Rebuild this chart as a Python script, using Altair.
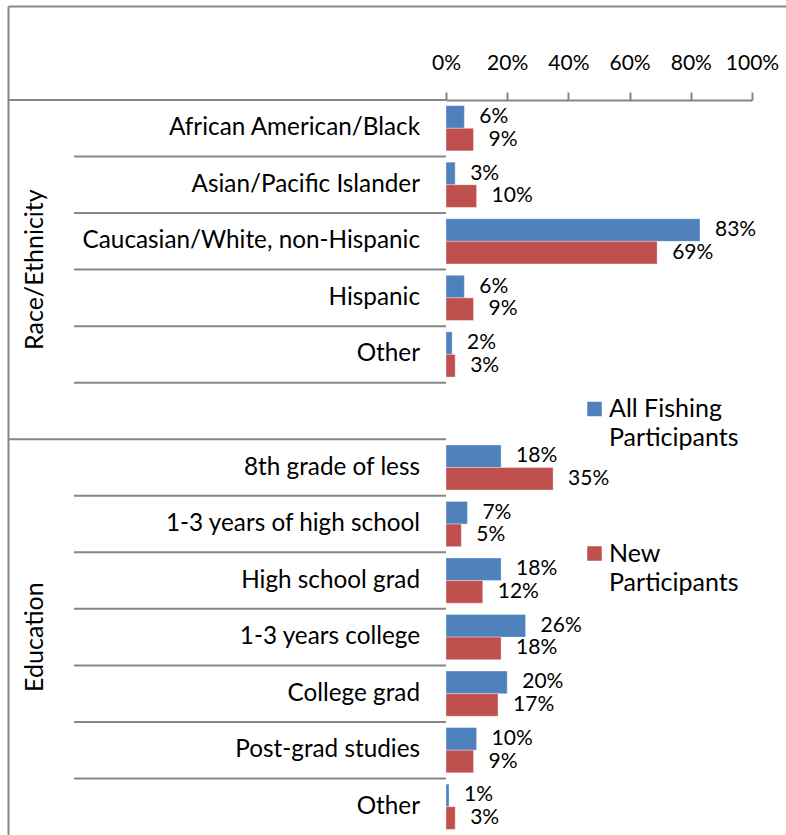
import altair as alt
import pandas as pd

# Survey shares (percent) by category
race_labels = ["African American/Black", "Asian/Pacific Islander",
               "Caucasian/White, non-Hispanic", "Hispanic", "Other", ""]
race_all = [6, 3, 83, 6, 2, None]
race_new = [9, 10, 69, 9, 3, None]

edu_labels = ["8th grade of less", "1-3 years of high school", "High school grad",
              "1-3 years college", "College grad", "Post-grad studies", "Other"]
edu_all = [18, 7, 18, 26, 20, 10, 1]
edu_new = [35, 5, 12, 18, 17, 9, 3]

groups = ["Race/Ethnicity", "Education"]
series = ["All Fishing Participants", "New Participants"]
colors = ["#4F81BD", "#C0504D"]
tick_values = [0, 20, 40, 60, 80, 100]

FONT = "Lato"
GRID = "#868686"

# one row per category slot, keyed by group so repeated labels stay distinct
rows = []
bars = []
for g, labels, a_vals, n_vals in [(groups[0], race_labels, race_all, race_new),
                                  (groups[1], edu_labels, edu_all, edu_new)]:
    for i, lab in enumerate(labels):
        key = f"{g}|{lab}"
        rows.append({"key": key, "group": g, "label": lab, "idx": i})
        for s, v in zip(series, [a_vals[i], n_vals[i]]):
            if v is not None:
                bars.append({"key": key, "series": s, "value": v})

rows_df = pd.DataFrame(rows)
bars_df = pd.DataFrame(bars)
row_keys = rows_df["key"].tolist()

inner_sep = rows_df[rows_df["idx"] > 0]
group_sep = rows_df[rows_df["idx"] == 0]
race_keys = rows_df[rows_df["group"] == groups[0]]["key"].tolist()
edu_keys = rows_df[rows_df["group"] == groups[1]]["key"].tolist()

y_scale = alt.Scale(domain=row_keys, paddingInner=0, paddingOuter=0)
x_scale = alt.Scale(domain=[0, 100], nice=False)
offset_scale = alt.Scale(paddingOuter=0.25, paddingInner=0)
color_scale = alt.Scale(domain=series, range=colors)


def y_enc(**kw):
    return alt.Y("key:N", scale=y_scale, axis=None, **kw)


bar_layer = alt.Chart(bars_df).mark_bar(stroke="white", strokeOpacity=0.35, strokeWidth=1).encode(
    x=alt.X("value:Q", scale=x_scale,
            axis=alt.Axis(orient="top", values=tick_values, labelExpr="datum.value + '%'",
                          title=None, grid=False, domainColor=GRID, domainWidth=2,
                          tickColor=GRID, tickWidth=2, tickSize=8,
                          labelFont=FONT, labelFontSize=21, labelColor="black",
                          labelOverlap=False, labelFlush=False,
                          labelBaseline="alphabetic", labelPadding=23)),
    y=alt.Y("key:N", scale=y_scale,
            axis=alt.Axis(labels=False, ticks=False, title=None, grid=False,
                          domainColor=GRID, domainWidth=2)),
    yOffset=alt.YOffset("series:N", sort=series, scale=offset_scale),
    color=alt.Color("series:N", sort=series, scale=color_scale, legend=None),
)

value_layer = alt.Chart(bars_df).transform_calculate(
    txt="datum.value + '%'"
).mark_text(align="left", baseline="middle", dx=15, font=FONT, fontSize=21,
            color="black").encode(
    x=alt.X("value:Q", scale=x_scale),
    y=y_enc(),
    yOffset=alt.YOffset("series:N", sort=series, scale=offset_scale),
    text="txt:N",
)

label_layer = alt.Chart(rows_df).mark_text(
    align="right", baseline="middle", font=FONT, fontSize=24.3, color="black"
).encode(x=alt.value(-26), y=y_enc(), text="label:N")

inner_rules = alt.Chart(inner_sep).mark_rule(color=GRID, strokeWidth=2).encode(
    y=y_enc(bandPosition=0), x=alt.value(-372), x2=alt.value(0))

group_rules = alt.Chart(group_sep).mark_rule(color=GRID, strokeWidth=2).encode(
    y=y_enc(bandPosition=0), x=alt.value(-437.5), x2=alt.value(0))

frame = alt.Data(values=[{}])
top_border = alt.Chart(frame).mark_rule(color=GRID, strokeWidth=2).encode(
    x=alt.value(-437.5), x2=alt.value(340), y=alt.value(-93.5))
left_border = alt.Chart(frame).mark_rule(color=GRID, strokeWidth=2).encode(
    x=alt.value(-437.5), y=alt.value(-93.5), y2=alt.value(735))

race_title = alt.Chart(pd.DataFrame({"key": [race_keys[3]], "t": [groups[0]]})).mark_text(
    angle=270, align="center", baseline="middle", font=FONT, fontSize=25, color="black"
).encode(x=alt.value(-411), y=y_enc(bandPosition=0), text="t:N")

edu_title = alt.Chart(pd.DataFrame({"key": [edu_keys[3]], "t": [groups[1]]})).mark_text(
    angle=270, align="center", baseline="middle", font=FONT, fontSize=25, color="black"
).encode(x=alt.value(-411), y=y_enc(bandPosition=0.5), text="t:N")

# legend: one swatch and a two-line caption per series
legend_y = [309, 453.5]
legend_parts = []
for s, ly in zip(series, legend_y):
    entry = alt.Data(values=[{"series": s, "caption": s.replace(" Participants", "\nParticipants")}])
    legend_parts.append(
        alt.Chart(entry).mark_square(size=210, opacity=1, strokeWidth=0).encode(
            x=alt.value(148.5), y=alt.value(ly),
            color=alt.Color("series:N", scale=color_scale, legend=None))
    )
    legend_parts.append(
        alt.Chart(entry).mark_text(align="left", baseline="alphabetic", lineBreak="\n",
                                   lineHeight=29, font=FONT, fontSize=25,
                                   color="black").encode(
            x=alt.value(163), y=alt.value(ly + 8), text="caption:N")
    )

chart = alt.layer(
    inner_rules, group_rules, top_border, left_border,
    bar_layer, value_layer, label_layer, race_title, edu_title, *legend_parts,
).properties(
    width=306, height=735,
    autosize=alt.AutoSizeParams(type="none"),
    padding={"left": 446, "top": 100, "right": 34, "bottom": 0},
    background="white",
).configure_view(stroke=None)

chart.save("out.html", embed_options={"renderer": "svg", "actions": False})
